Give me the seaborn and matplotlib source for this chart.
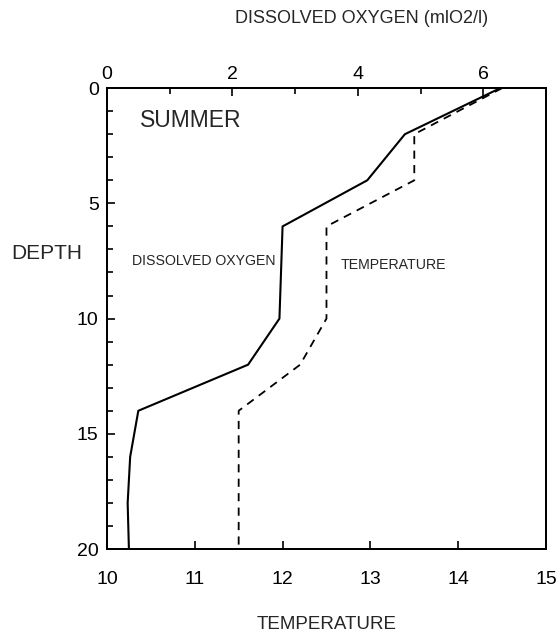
import matplotlib
matplotlib.use("Agg")
import matplotlib.pyplot as plt
from matplotlib.ticker import MultipleLocator
import seaborn as sns
import pandas as pd

# Summer profile: depth (m), water temperature and dissolved oxygen
depth = [0, 2, 4, 6, 10, 12, 14, 16, 18, 20]
temperature = [14.5, 13.5, 13.5, 12.5, 12.5, 12.2, 11.5, 11.5, 11.5, 11.5]
oxygen = [6.27, 4.75, 4.15, 2.8, 2.75, 2.25, 0.5, 0.37, 0.33, 0.35]

temp_ticks = [10, 11, 12, 13, 14, 15]
oxy_ticks = [0, 2, 4, 6]
depth_ticks = [0, 5, 10, 15, 20]

profile = pd.DataFrame({"depth": depth, "temperature": temperature, "oxygen": oxygen})

sns.set_style("ticks")
plt.rcParams["font.family"] = ["Liberation Sans", "DejaVu Sans"]

fig = plt.figure(figsize=(5.6, 6.34), dpi=100)
ax = fig.add_axes([0.191, 0.134, 0.784, 0.727])
ax2 = ax.twiny()

sns.lineplot(data=profile, x="temperature", y="depth", orient="y", sort=False,
             ax=ax, color="black", linewidth=1.3, dashes=False,
             linestyle=(0, (4.5, 3.5)))
sns.lineplot(data=profile, x="oxygen", y="depth", orient="y", sort=False,
             ax=ax2, color="black", linewidth=1.5)

ax.set_xlim(10, 15)
ax.set_ylim(20, 0)
ax2.set_xlim(0, 7)

ax.set_xticks(temp_ticks)
ax.set_yticks(depth_ticks)
ax.yaxis.set_minor_locator(MultipleLocator(1))
ax2.set_xticks(oxy_ticks)
ax2.xaxis.set_minor_locator(MultipleLocator(1))

for a in (ax, ax2):
    for s in a.spines.values():
        s.set_visible(True)
        s.set_linewidth(1.4)
        s.set_color("black")

ax.tick_params(axis="both", which="both", direction="in", colors="black",
               labelsize=14, width=1.2)
ax.tick_params(axis="both", which="major", length=6)
ax.tick_params(axis="y", which="minor", length=4)
ax.tick_params(axis="x", pad=16)
ax.tick_params(axis="y", pad=6)
ax.tick_params(right=False, top=False)
ax2.tick_params(axis="x", which="both", direction="in", colors="black",
                labelsize=14, width=1.2, pad=4)
ax2.tick_params(axis="x", which="major", length=6)
ax2.tick_params(axis="x", which="minor", length=4)

ax.set_xlabel("TEMPERATURE", fontsize=13.5, labelpad=20)
ax2.set_xlabel("")
ax.set_ylabel("DEPTH", fontsize=15, rotation=0, ha="center", va="center")
ax.yaxis.set_label_coords(-0.137, 0.642)

fig.text(0.646, 0.971, "DISSOLVED OXYGEN (mlO2/l)", fontsize=13,
         ha="center", va="center")

ax.text(0.075, 0.93, "SUMMER", transform=ax.transAxes, fontsize=16.5,
        ha="left", va="center")
ax.text(0.058, 0.625, "DISSOLVED OXYGEN", transform=ax.transAxes, fontsize=10.2,
        ha="left", va="center")
ax.text(0.533, 0.617, "TEMPERATURE", transform=ax.transAxes, fontsize=10.2,
        ha="left", va="center")

fig.savefig("out.png", dpi=100)
